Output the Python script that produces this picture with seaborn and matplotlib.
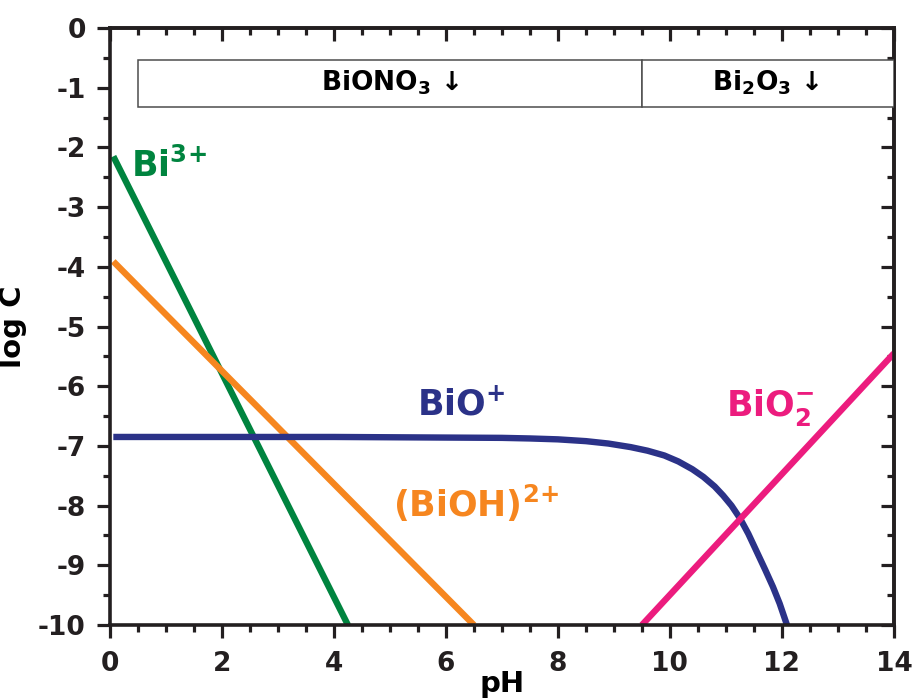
import matplotlib
matplotlib.use("Agg")
import matplotlib.pyplot as plt
from matplotlib.patches import Rectangle
import numpy as np
import pandas as pd
import seaborn as sns

# ---- species distribution data (pH, log C) ----
bi3_ph = [0.06, 4.25]
bi3_logc = [-2.15, -10.0]

bioh_ph = [0.06, 6.50]
bioh_logc = [-3.91, -10.0]

bio_ph = [0.06, 4.0, 7.0, 7.5, 8.0, 8.5, 8.9, 9.3, 9.6, 9.9, 10.15, 10.4, 10.6,
          10.8, 10.95, 11.1, 11.25, 11.4, 11.55, 11.7, 11.84, 11.96, 12.08, 12.12]
bio_logc = [-6.85, -6.85, -6.865, -6.875, -6.89, -6.92, -6.96, -7.02, -7.08, -7.16,
            -7.26, -7.39, -7.52, -7.68, -7.83, -8.00, -8.21, -8.47, -8.77, -9.07,
            -9.36, -9.64, -9.97, -10.08]

bio2_ph = [9.50, 14.0]
bio2_logc = [-10.0, -5.45]

# solid phases stable over pH ranges
phase_names = [r"BiONO$_3$ ↓", r"Bi$_2$O$_3$ ↓"]
phase_start = [0.5, 9.5]
phase_end = [9.5, 14.0]
phase_top = -0.54
phase_bottom = -1.32

x_major = np.arange(0, 15, 2)
x_minor = np.arange(0, 14.01, 0.5)
y_major = np.arange(-10, 1, 1)
y_minor = np.arange(-10, 0.01, 0.5)

sns.set_theme(style="ticks")
plt.rcParams["font.family"] = ["DejaVu Sans"]
plt.rcParams["font.weight"] = "bold"
plt.rcParams["mathtext.default"] = "bf"
plt.rcParams["axes.unicode_minus"] = False

ink = "#231F20"
green = "#00843F"
orange = "#F6861F"
navy = "#2B3288"
pink = "#EC1C7E"

fig = plt.figure(figsize=(9.14, 7.0), dpi=100)
ax = fig.add_axes([0.1203, 0.1071, 0.978 - 0.1203, 0.96 - 0.1071])

series = [
    (bi3_ph, bi3_logc, green),
    (bioh_ph, bioh_logc, orange),
    (bio_ph, bio_logc, navy),
    (bio2_ph, bio2_logc, pink),
]
for ph, logc, col in series:
    df = pd.DataFrame({"pH": ph, "logC": logc})
    sns.lineplot(data=df, x="pH", y="logC", ax=ax, color=col, lw=4.6,
                 sort=False, estimator=None, solid_capstyle="butt",
                 solid_joinstyle="round")

# phase boxes along the top
for name, a, b in zip(phase_names, phase_start, phase_end):
    ax.add_patch(Rectangle((a, phase_bottom), b - a, phase_top - phase_bottom,
                           facecolor="white", edgecolor="#4d4d4d", lw=1.1, zorder=3))
    ax.text((a + b) / 2 - (0.03 if b == 14.0 else 0), -1.04, name, ha="center",
            va="baseline", fontsize=19, fontweight="bold", color="black", zorder=4)

# species labels
ax.text(0.37, -2.50, r"Bi$^{3\!+}$", color=green, fontsize=25, fontweight="bold",
        ha="left", va="baseline")
ax.text(5.06, -8.19, r"(BiOH)$^{2\!+}$", color=orange, fontsize=25, fontweight="bold",
        ha="left", va="baseline")
ax.text(5.48, -6.48, r"BiO$^{+}$", color=navy, fontsize=25, fontweight="bold",
        ha="left", va="baseline")
ax.text(11.0, -6.50, r"BiO$_2^{-}$", color=pink, fontsize=25, fontweight="bold",
        ha="left", va="baseline")

ax.set_xlim(0, 14)
ax.set_ylim(-10, 0)
ax.set_xticks(x_major)
ax.set_yticks(y_major)
ax.set_xticks(x_minor, minor=True)
ax.set_yticks(y_minor, minor=True)
ax.set_xticklabels([f"{v:d}" for v in x_major])
ax.set_yticklabels([f"{v:d}" for v in y_major])

for side in ["left", "right", "top", "bottom"]:
    ax.spines[side].set_visible(True)
    ax.spines[side].set_linewidth(2.6)
    ax.spines[side].set_color(ink)

ax.tick_params(axis="both", which="major", direction="out", length=9.5, width=2.3,
               color=ink, labelsize=19, labelcolor=ink, pad=8, top=False, right=False)
ax.tick_params(axis="both", which="minor", direction="out", length=5, width=2.3,
               color=ink, top=False, right=False)
ax.tick_params(axis="x", which="major", pad=9)
for lab in ax.get_xticklabels() + ax.get_yticklabels():
    lab.set_fontweight("bold")

# mirrored ticks on the top and right edges, pointing into the plot
sec_x = ax.secondary_xaxis("top")
sec_x.set_xticks(x_major)
sec_x.set_xticks(x_minor, minor=True)
sec_x.tick_params(which="major", direction="in", length=9.5, width=2.3, color=ink,
                  labeltop=False)
sec_x.tick_params(which="minor", direction="in", length=5, width=2.3, color=ink)
sec_x.spines["top"].set_linewidth(2.6)
sec_x.spines["top"].set_color(ink)

sec_y = ax.secondary_yaxis("right")
sec_y.set_yticks(y_major)
sec_y.set_yticks(y_minor, minor=True)
sec_y.tick_params(which="major", direction="in", length=9.5, width=2.3, color=ink,
                  labelright=False)
sec_y.tick_params(which="minor", direction="in", length=5, width=2.3, color=ink)
sec_y.spines["right"].set_linewidth(2.6)
sec_y.spines["right"].set_color(ink)

ax.set_xlabel("pH", fontsize=21, fontweight="bold", color="black", labelpad=-5)
ax.set_ylabel("log C", fontsize=21, fontweight="bold", color="black", labelpad=8)
ax.grid(False)

fig.savefig("out.png", dpi=100)
